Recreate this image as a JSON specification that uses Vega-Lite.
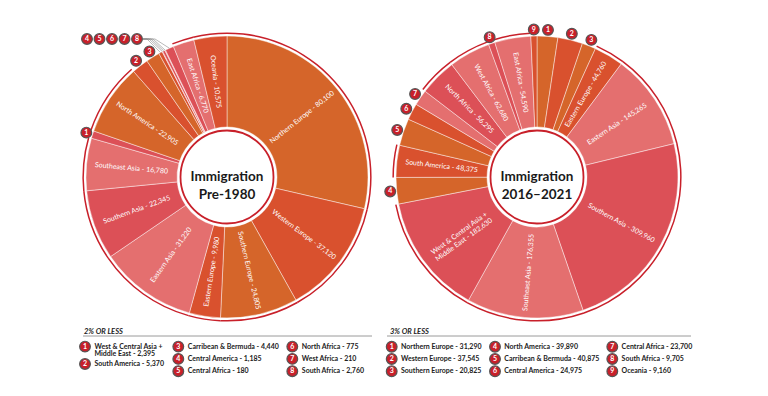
{
  "$schema": "https://vega.github.io/schema/vega-lite/v6.json",
  "padding": {"left": 77, "top": 21, "right": 0, "bottom": 0},
  "bounds": "flush",
  "columns": 2,
  "spacing": {"row": 0, "column": 10},
  "config": {"view": {"stroke": null}, "font": "Lato"},
  "datasets": {
    "pre": [
      {"name": "Northern Europe", "value": 80100, "num": null},
      {"name": "Western Europe", "value": 37120, "num": null},
      {"name": "Southern Europe", "value": 24805, "num": null},
      {"name": "Eastern Europe", "value": 9980, "num": null},
      {"name": "Eastern Asia", "value": 31220, "num": null},
      {"name": "Southern Asia", "value": 22345, "num": null},
      {"name": "Southeast Asia", "value": 16780, "num": null},
      {"name": "West & Central Asia +\nMiddle East", "value": 2395, "num": 1},
      {"name": "North America", "value": 22905, "num": null},
      {"name": "South America", "value": 5370, "num": 2},
      {"name": "Carribean & Bermuda", "value": 4440, "num": 3},
      {"name": "Central America", "value": 1185, "num": 4},
      {"name": "Central Africa", "value": 180, "num": 5},
      {"name": "North Africa", "value": 775, "num": 6},
      {"name": "West Africa", "value": 210, "num": 7},
      {"name": "South Africa", "value": 2760, "num": 8},
      {"name": "East Africa", "value": 6770, "num": null},
      {"name": "Oceania", "value": 10575, "num": null}
    ],
    "recent": [
      {"name": "Northern Europe", "value": 31290, "num": 1},
      {"name": "Western Europe", "value": 37545, "num": 2},
      {"name": "Southern Europe", "value": 20825, "num": 3},
      {"name": "Eastern Europe", "value": 44760, "num": null},
      {"name": "Eastern Asia", "value": 145265, "num": null},
      {"name": "Southern Asia", "value": 309960, "num": null},
      {"name": "Southeast Asia", "value": 176355, "num": null},
      {"name": "West & Central Asia +\nMiddle East", "value": 182630, "num": null},
      {"name": "North America", "value": 39890, "num": 4},
      {"name": "South America", "value": 48375, "num": null},
      {"name": "Carribean & Bermuda", "value": 40875, "num": 5},
      {"name": "Central America", "value": 24975, "num": 6},
      {"name": "Central Africa", "value": 23700, "num": 7},
      {"name": "North Africa", "value": 56295, "num": null},
      {"name": "West Africa", "value": 62680, "num": null},
      {"name": "South Africa", "value": 9705, "num": 8},
      {"name": "East Africa", "value": 54590, "num": null},
      {"name": "Oceania", "value": 9160, "num": 9}
    ]
  },
  "concat": [
    {
      "width": 300, "height": 310,
      "data": {"name": "pre"},
      "transform": [
        {"window": [{"op": "row_number", "as": "idx"}]},
        {"joinaggregate": [{"op": "sum", "field": "value", "as": "total"}]},
        {"window": [{"op": "sum", "field": "value", "as": "cum"}], "sort": [{"field": "idx"}], "frame": [null, 0]},
        {"calculate": "(datum.cum - datum.value / 2) / datum.total * 360", "as": "mid"},
        {"calculate": "datum.mid * PI / 180", "as": "rad"},
        {"calculate": "datum.name + ' - ' + format(datum.value, ',')", "as": "label"},
        {"calculate": "datum.mid < 180 ? datum.mid - 90 : datum.mid - 270", "as": "ang"}
      ],
      "layer": [
        {
          "mark": {"type": "arc", "outerRadius": 141, "innerRadius": 50, "stroke": "#ffffff", "strokeOpacity": 0.55, "strokeWidth": 0.8},
          "encoding": {
            "theta": {"field": "value", "type": "quantitative", "stack": true},
            "order": {"field": "idx", "type": "quantitative"},
            "color": {"field": "name", "type": "nominal", "legend": null,
              "scale": {
                "domain": ["Northern Europe", "Western Europe", "Southern Europe", "Eastern Europe", "Eastern Asia", "Southern Asia", "Southeast Asia", "West & Central Asia +\nMiddle East", "North America", "South America", "Carribean & Bermuda", "Central America", "Central Africa", "North Africa", "West Africa", "South Africa", "East Africa", "Oceania"],
                "range": ["#D5652A", "#D9512E", "#D5652A", "#D9512E", "#E46F6F", "#DC5057", "#E46F6F", "#DC5057", "#D5652A", "#D9512E", "#D5652A", "#D9512E", "#E46F6F", "#DC5057", "#E46F6F", "#DC5057", "#E46F6F", "#D9512E"]
              }}
          }
        },
        {
          "mark": {"type": "arc", "outerRadius": 144.6, "innerRadius": 143.1},
          "encoding": {
            "theta": {"field": "value", "type": "quantitative", "stack": true},
            "order": {"field": "idx", "type": "quantitative"},
            "fill": {"condition": {"test": "datum.num == null", "value": "#C8202A"}, "value": "transparent"}
          }
        },
        {
          "data": {"values": [{}]},
          "mark": {"type": "arc", "theta": 0, "theta2": 6.2832, "outerRadius": 46.5, "innerRadius": 0, "fill": "#ffffff", "stroke": "#C8202A", "strokeWidth": 1.8}
        },
        {
          "data": {"values": [{}]},
          "mark": {"type": "text", "text": "Immigration\nPre-1980", "lineBreak": "\n", "lineHeight": 18, "fontSize": 13.5, "fontWeight": "bold", "color": "#1a1a1a", "align": "center", "baseline": "middle"}
        },
        {
          "transform": [
            {"filter": "datum.num == null"},
            {"calculate": "96 * sin(datum.rad)", "as": "lx"},
            {"calculate": "96 * cos(datum.rad)", "as": "ly"}
          ],
          "mark": {"type": "text", "color": "#ffffff", "fontSize": 7, "lineBreak": "\n", "lineHeight": 8, "align": "center", "baseline": "middle"},
          "encoding": {
            "x": {"field": "lx", "type": "quantitative", "scale": {"domain": [-150, 150], "nice": false, "zero": false}, "axis": null},
            "y": {"field": "ly", "type": "quantitative", "scale": {"domain": [-155, 155], "nice": false, "zero": false}, "axis": null},
            "text": {"field": "label"},
            "angle": {"field": "ang", "type": "quantitative", "scale": null}
          }
        },
        {
          "transform": [
            {"filter": "datum.num >= 4"},
            {"calculate": "-84", "as": "hx"},
            {"calculate": "-80 + (datum.num - 4) * 2", "as": "bx"},
            {"calculate": "138", "as": "by"},
            {"calculate": "141 * sin(datum.rad)", "as": "ex"},
            {"calculate": "141 * cos(datum.rad)", "as": "ey"}
          ],
          "layer": [
            {
              "mark": {"type": "rule", "color": "#888888", "strokeWidth": 0.6},
              "encoding": {
                "x": {"field": "hx", "type": "quantitative"},
                "x2": {"field": "bx"},
                "y": {"field": "by", "type": "quantitative"}
              }
            },
            {
              "mark": {"type": "rule", "color": "#888888", "strokeWidth": 0.6},
              "encoding": {
                "x": {"field": "bx", "type": "quantitative"},
                "x2": {"field": "ex"},
                "y": {"field": "by", "type": "quantitative"},
                "y2": {"field": "ey"}
              }
            }
          ]
        },
        {
          "transform": [
            {"filter": "datum.num != null"},
            {"calculate": "datum.num >= 4 ? -140 + (datum.num - 4) * 12.5 : 147.5 * sin(datum.rad)", "as": "cx"},
            {"calculate": "datum.num >= 4 ? 138 : 147.5 * cos(datum.rad)", "as": "cy"}
          ],
          "layer": [
            {
              "mark": {"type": "point", "shape": "circle", "filled": true, "size": 115, "fill": "#C8202A", "stroke": "#555555", "strokeWidth": 1.2, "opacity": 1},
              "encoding": {
                "x": {"field": "cx", "type": "quantitative"},
                "y": {"field": "cy", "type": "quantitative"}
              }
            },
            {
              "mark": {"type": "text", "color": "#ffffff", "fontSize": 7, "fontWeight": "bold", "align": "center", "baseline": "middle"},
              "encoding": {
                "x": {"field": "cx", "type": "quantitative"},
                "y": {"field": "cy", "type": "quantitative"},
                "text": {"field": "num"}
              }
            }
          ]
        }
      ]
    },
    {
      "width": 300, "height": 310,
      "data": {"name": "recent"},
      "transform": [
        {"window": [{"op": "row_number", "as": "idx"}]},
        {"joinaggregate": [{"op": "sum", "field": "value", "as": "total"}]},
        {"window": [{"op": "sum", "field": "value", "as": "cum"}], "sort": [{"field": "idx"}], "frame": [null, 0]},
        {"calculate": "(datum.cum - datum.value / 2) / datum.total * 360", "as": "mid"},
        {"calculate": "datum.mid * PI / 180", "as": "rad"},
        {"calculate": "datum.name + ' - ' + format(datum.value, ',')", "as": "label"},
        {"calculate": "datum.mid < 180 ? datum.mid - 90 : datum.mid - 270", "as": "ang"}
      ],
      "layer": [
        {
          "mark": {"type": "arc", "outerRadius": 141, "innerRadius": 50, "stroke": "#ffffff", "strokeOpacity": 0.55, "strokeWidth": 0.8},
          "encoding": {
            "theta": {"field": "value", "type": "quantitative", "stack": true},
            "order": {"field": "idx", "type": "quantitative"},
            "color": {"field": "name", "type": "nominal", "legend": null,
              "scale": {
                "domain": ["Northern Europe", "Western Europe", "Southern Europe", "Eastern Europe", "Eastern Asia", "Southern Asia", "Southeast Asia", "West & Central Asia +\nMiddle East", "North America", "South America", "Carribean & Bermuda", "Central America", "Central Africa", "North Africa", "West Africa", "South Africa", "East Africa", "Oceania"],
                "range": ["#D5652A", "#D9512E", "#D5652A", "#D9512E", "#E46F6F", "#DC5057", "#E46F6F", "#DC5057", "#D5652A", "#D9512E", "#D5652A", "#D9512E", "#E46F6F", "#DC5057", "#E46F6F", "#DC5057", "#E46F6F", "#D9512E"]
              }}
          }
        },
        {
          "mark": {"type": "arc", "outerRadius": 144.6, "innerRadius": 143.1},
          "encoding": {
            "theta": {"field": "value", "type": "quantitative", "stack": true},
            "order": {"field": "idx", "type": "quantitative"},
            "fill": {"condition": {"test": "datum.num == null", "value": "#C8202A"}, "value": "transparent"}
          }
        },
        {
          "data": {"values": [{}]},
          "mark": {"type": "arc", "theta": 0, "theta2": 6.2832, "outerRadius": 46.5, "innerRadius": 0, "fill": "#ffffff", "stroke": "#C8202A", "strokeWidth": 1.8}
        },
        {
          "data": {"values": [{}]},
          "mark": {"type": "text", "text": "Immigration\n2016–2021", "lineBreak": "\n", "lineHeight": 18, "fontSize": 13.5, "fontWeight": "bold", "color": "#1a1a1a", "align": "center", "baseline": "middle"}
        },
        {
          "transform": [
            {"filter": "datum.num == null"},
            {"calculate": "96 * sin(datum.rad)", "as": "lx"},
            {"calculate": "96 * cos(datum.rad)", "as": "ly"}
          ],
          "mark": {"type": "text", "color": "#ffffff", "fontSize": 7, "lineBreak": "\n", "lineHeight": 8, "align": "center", "baseline": "middle"},
          "encoding": {
            "x": {"field": "lx", "type": "quantitative", "scale": {"domain": [-150, 150], "nice": false, "zero": false}, "axis": null},
            "y": {"field": "ly", "type": "quantitative", "scale": {"domain": [-155, 155], "nice": false, "zero": false}, "axis": null},
            "text": {"field": "label"},
            "angle": {"field": "ang", "type": "quantitative", "scale": null}
          }
        },
        {
          "transform": [
            {"filter": "datum.num != null"},
            {"calculate": "147.5 * sin(datum.rad)", "as": "cx"},
            {"calculate": "147.5 * cos(datum.rad)", "as": "cy"}
          ],
          "layer": [
            {
              "mark": {"type": "point", "shape": "circle", "filled": true, "size": 115, "fill": "#C8202A", "stroke": "#555555", "strokeWidth": 1.2, "opacity": 1},
              "encoding": {
                "x": {"field": "cx", "type": "quantitative"},
                "y": {"field": "cy", "type": "quantitative"}
              }
            },
            {
              "mark": {"type": "text", "color": "#ffffff", "fontSize": 7, "fontWeight": "bold", "align": "center", "baseline": "middle"},
              "encoding": {
                "x": {"field": "cx", "type": "quantitative"},
                "y": {"field": "cy", "type": "quantitative"},
                "text": {"field": "num"}
              }
            }
          ]
        }
      ]
    },
    {
      "width": 300, "height": 65,
      "data": {"name": "pre"},
      "transform": [
        {"filter": "datum.num != null"},
        {"calculate": "datum.name + ' - ' + format(datum.value, ',')", "as": "label"},
        {"calculate": "datum.num <= 2 ? 0 : datum.num <= 5 ? 1 : 2", "as": "col"},
        {"calculate": "[8, 101.3, 215.3][datum.col]", "as": "cx"},
        {"calculate": "datum.num == 2 ? 32 : 14.6 + (datum.num - [1, 3, 6][datum.col]) * 12.3", "as": "cy"},
        {"calculate": "datum.cx + 9.5", "as": "tx"},
        {"calculate": "datum.cy - 3.9", "as": "ty"}
      ],
      "layer": [
        {
          "data": {"values": [{}]},
          "mark": {"type": "text", "text": "2% OR LESS", "fontSize": 7.5, "fontWeight": "bold", "fontStyle": "italic", "color": "#222222", "align": "left", "baseline": "middle"},
          "encoding": {
            "x": {"datum": 7, "type": "quantitative", "scale": {"domain": [0, 300], "nice": false, "zero": false}, "axis": null},
            "y": {"datum": 0, "type": "quantitative", "scale": {"domain": [0, 65], "nice": false, "zero": false, "reverse": true}, "axis": null}
          }
        },
        {
          "data": {"values": [{}]},
          "mark": {"type": "rule", "color": "#9a9a9a", "strokeWidth": 1},
          "encoding": {
            "x": {"datum": 6, "type": "quantitative"},
            "x2": {"datum": 295},
            "y": {"datum": 4, "type": "quantitative"}
          }
        },
        {
          "mark": {"type": "point", "shape": "circle", "filled": true, "size": 115, "fill": "#C8202A", "stroke": "#555555", "strokeWidth": 1.2, "opacity": 1},
          "encoding": {
            "x": {"field": "cx", "type": "quantitative"},
            "y": {"field": "cy", "type": "quantitative"}
          }
        },
        {
          "mark": {"type": "text", "color": "#ffffff", "fontSize": 7, "fontWeight": "bold", "align": "center", "baseline": "middle"},
          "encoding": {
            "x": {"field": "cx", "type": "quantitative"},
            "y": {"field": "cy", "type": "quantitative"},
            "text": {"field": "num"}
          }
        },
        {
          "mark": {"type": "text", "color": "#222222", "fontSize": 7, "fontWeight": "bold", "align": "left", "baseline": "top", "lineBreak": "\n", "lineHeight": 7.4},
          "encoding": {
            "x": {"field": "tx", "type": "quantitative"},
            "y": {"field": "ty", "type": "quantitative"},
            "text": {"field": "label"}
          }
        }
      ]
    },
    {
      "width": 310, "height": 65,
      "data": {"name": "recent"},
      "transform": [
        {"filter": "datum.num != null"},
        {"calculate": "datum.name + ' - ' + format(datum.value, ',')", "as": "label"},
        {"calculate": "floor((datum.num - 1) / 3)", "as": "col"},
        {"calculate": "[4.7, 108, 225.3][datum.col]", "as": "cx"},
        {"calculate": "14.7 + ((datum.num - 1) % 3) * 12.3", "as": "cy"},
        {"calculate": "datum.cx + 9.3", "as": "tx"},
        {"calculate": "datum.cy - 3.9", "as": "ty"}
      ],
      "layer": [
        {
          "data": {"values": [{}]},
          "mark": {"type": "text", "text": "3% OR LESS", "fontSize": 7.5, "fontWeight": "bold", "fontStyle": "italic", "color": "#222222", "align": "left", "baseline": "middle"},
          "encoding": {
            "x": {"datum": 3, "type": "quantitative", "scale": {"domain": [0, 310], "nice": false, "zero": false}, "axis": null},
            "y": {"datum": 0, "type": "quantitative", "scale": {"domain": [0, 65], "nice": false, "zero": false, "reverse": true}, "axis": null}
          }
        },
        {
          "data": {"values": [{}]},
          "mark": {"type": "rule", "color": "#9a9a9a", "strokeWidth": 1},
          "encoding": {
            "x": {"datum": 0, "type": "quantitative"},
            "x2": {"datum": 304},
            "y": {"datum": 4, "type": "quantitative"}
          }
        },
        {
          "mark": {"type": "point", "shape": "circle", "filled": true, "size": 115, "fill": "#C8202A", "stroke": "#555555", "strokeWidth": 1.2, "opacity": 1},
          "encoding": {
            "x": {"field": "cx", "type": "quantitative"},
            "y": {"field": "cy", "type": "quantitative"}
          }
        },
        {
          "mark": {"type": "text", "color": "#ffffff", "fontSize": 7, "fontWeight": "bold", "align": "center", "baseline": "middle"},
          "encoding": {
            "x": {"field": "cx", "type": "quantitative"},
            "y": {"field": "cy", "type": "quantitative"},
            "text": {"field": "num"}
          }
        },
        {
          "mark": {"type": "text", "color": "#222222", "fontSize": 7, "fontWeight": "bold", "align": "left", "baseline": "top", "lineBreak": "\n", "lineHeight": 7.4},
          "encoding": {
            "x": {"field": "tx", "type": "quantitative"},
            "y": {"field": "ty", "type": "quantitative"},
            "text": {"field": "label"}
          }
        }
      ]
    }
  ]
}
